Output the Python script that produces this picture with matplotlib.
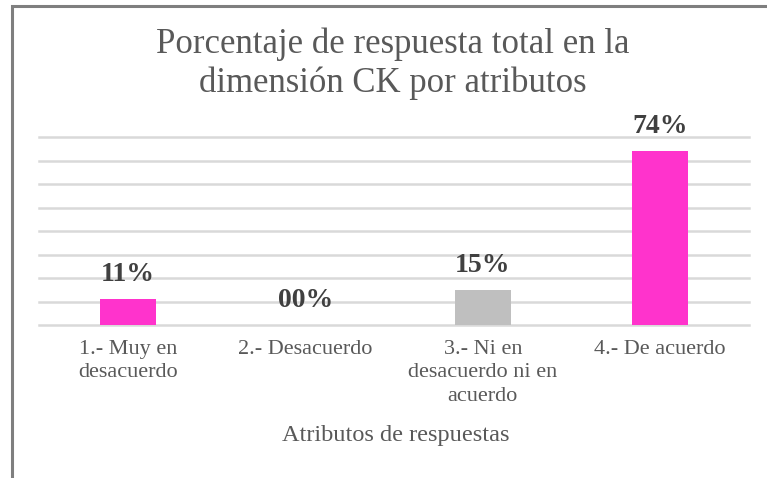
import matplotlib
matplotlib.use("Agg")
import matplotlib.pyplot as plt
from matplotlib.patches import Rectangle

categorias = [
    "1.- Muy en\ndesacuerdo",
    "2.- Desacuerdo",
    "3.- Ni en\ndesacuerdo ni en\nacuerdo",
    "4.- De acuerdo",
]
porcentajes = [11, 0, 15, 74]
colores = ["#FF33CC", "#FF33CC", "#BFBFBF", "#FF33CC"]

plt.rcParams["font.family"] = ["Liberation Serif", "DejaVu Serif"]

W, H = 767, 478
fig = plt.figure(figsize=(W / 100, H / 100), dpi=100)
fig.patch.set_facecolor("white")

ax = fig.add_axes([39 / W, (H - 325) / H, 710 / W, 188 / H])
x = range(len(categorias))
bars = ax.bar(x, porcentajes, width=0.315, color=colores, zorder=3)

ax.set_xlim(-0.5, len(categorias) - 0.5)
ax.set_ylim(0, 80)
ax.set_yticks(range(0, 81, 10))
ax.yaxis.grid(True, color="#D9D9D9", linewidth=1.8, zorder=0)
for gl in ax.get_ygridlines():
    gl.set_clip_on(False)
ax.tick_params(axis="y", left=False, labelleft=False)
ax.tick_params(axis="x", length=0, pad=11, labelsize=16, labelcolor="#595959")
ax.set_xticks(list(x))
ax.set_xticklabels(categorias, linespacing=1.3, va="top")
for s in ax.spines.values():
    s.set_visible(False)

for b, v in zip(bars, porcentajes):
    ax.annotate(f"{v:02d}%", (b.get_x() + b.get_width() / 2, v),
                xytext=(0, 13), textcoords="offset points",
                ha="center", va="baseline", fontsize=20,
                fontweight="bold", color="#404040")

fig.text(393 / W, (H - 53) / H, "Porcentaje de respuesta total en la",
         ha="center", va="baseline", fontsize=25, color="#595959")
fig.text(393 / W, (H - 92) / H, "dimensión CK por atributos",
         ha="center", va="baseline", fontsize=25, color="#595959")
fig.text(396 / W, (H - 441) / H, "Atributos de respuestas",
         ha="center", va="baseline", fontsize=17.5, color="#595959")

fig.add_artist(Rectangle((12 / W, -0.05), 1.0, (H - 6) / H + 0.05,
                         transform=fig.transFigure, fill=False,
                         edgecolor="#7F7F7F", linewidth=2.2))

fig.savefig("out.png", dpi=100)
plt.close(fig)
